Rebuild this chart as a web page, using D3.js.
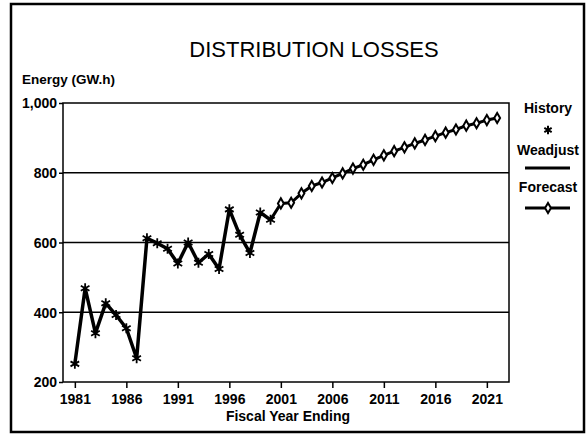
<!DOCTYPE html>
<html>
<head>
<meta charset="utf-8">
<script src="https://cdn.jsdelivr.net/npm/d3@7"></script>
<style>
  body { margin: 0; background: #fff; }
  svg text { font-family: "Liberation Sans", Arial, sans-serif; fill: #000; }
</style>
</head>
<body>
<svg width="588" height="437"></svg>
<script>
// history (weather adjusted) values, GW.h
let histYears = [1981, 1982, 1983, 1984, 1985, 1986, 1987, 1988, 1989, 1990,
                 1991, 1992, 1993, 1994, 1995, 1996, 1997, 1998, 1999, 2000];
let histValues = [252, 469, 340, 426, 392, 354, 268, 612, 598, 582,
                  540, 600, 542, 567, 524, 695, 622, 570, 686, 665];

let fcstYears = [2001, 2002, 2003, 2004, 2005, 2006, 2007, 2008, 2009, 2010, 2011,
                 2012, 2013, 2014, 2015, 2016, 2017, 2018, 2019, 2020, 2021, 2022];
let fcstValues = [712, 714, 741, 762, 772, 785, 798, 812, 823, 837, 850,
                  862, 873, 884, 894, 905, 915, 924, 935, 942, 951, 957];

let xTicks = [1981, 1986, 1991, 1996, 2001, 2006, 2011, 2016, 2021];
let yTicks = [200, 400, 600, 800, 1000];
let gridValues = [400, 600, 800];

let svg = d3.select("svg");

let plotLeft = 63, plotRight = 509, plotTop = 103, plotBottom = 382;

let x = d3.scaleLinear().domain([1979.85, 2023.15]).range([plotLeft, plotRight]),
    y = d3.scaleLinear().domain([200, 1000]).range([plotBottom, plotTop]);

let hist = histYears.map(function(d, i) { return [d, histValues[i]]; }),
    fcst = fcstYears.map(function(d, i) { return [d, fcstValues[i]]; });

let line = d3.line()
    .x(function(d) { return x(d[0]); })
    .y(function(d) { return y(d[1]); });

// outer frame
svg.append("rect")
    .attr("x", 11).attr("y", 4)
    .attr("width", 573).attr("height", 428)
    .attr("fill", "none")
    .attr("stroke", "#000")
    .attr("stroke-width", 2.5);

svg.append("text")
    .attr("x", 314).attr("y", 57)
    .attr("text-anchor", "middle")
    .style("font-size", "22px")
    .text("DISTRIBUTION LOSSES");

svg.append("text")
    .attr("x", 22).attr("y", 84)
    .style("font-size", "13.5px")
    .style("font-weight", "bold")
    .text("Energy (GW.h)");

// gridlines
svg.append("g").selectAll("line")
    .data(gridValues)
  .enter().append("line")
    .attr("x1", plotLeft).attr("x2", plotRight)
    .attr("y1", y).attr("y2", y)
    .attr("stroke", "#000")
    .attr("stroke-width", 1.5);

svg.append("rect")
    .attr("x", plotLeft).attr("y", plotTop)
    .attr("width", plotRight - plotLeft).attr("height", plotBottom - plotTop)
    .attr("fill", "none")
    .attr("stroke", "#000")
    .attr("stroke-width", 1.5);

let yAxis = svg.append("g")
    .attr("transform", "translate(" + plotLeft + ",0)")
    .call(d3.axisLeft(y).tickValues(yTicks).tickSize(4).tickPadding(2)
      .tickFormat(d3.format(",")));

let xAxis = svg.append("g")
    .attr("transform", "translate(0," + plotBottom + ")")
    .call(d3.axisBottom(x).tickValues(xTicks).tickSize(6).tickPadding(6)
      .tickFormat(d3.format("d")));

[yAxis, xAxis].forEach(function(a) {
  a.select(".domain").remove();
  a.selectAll("line").attr("stroke", "#000").attr("stroke-width", 1.5);
  a.selectAll("text")
      .style("font-family", "'Liberation Sans', Arial, sans-serif")
      .style("font-size", "14px")
      .style("font-weight", "bold");
});
yAxis.selectAll("text").attr("dy", "0.35em");

svg.append("text")
    .attr("x", 288).attr("y", 421)
    .attr("text-anchor", "middle")
    .style("font-size", "14px")
    .style("font-weight", "bold")
    .text("Fiscal Year Ending");

// weather adjusted line + history markers
svg.append("path")
    .datum(hist)
    .attr("d", line)
    .attr("fill", "none")
    .attr("stroke", "#000")
    .attr("stroke-width", 3.5)
    .attr("stroke-linejoin", "round");

// forecast continues from the last history point
svg.append("path")
    .datum([hist[hist.length - 1]].concat(fcst))
    .attr("d", line)
    .attr("fill", "none")
    .attr("stroke", "#000")
    .attr("stroke-width", 3)
    .attr("stroke-linejoin", "round");

let star = d3.symbol(d3.symbolAsterisk, 70),
    diamond = d3.symbol(d3.symbolDiamond, 30);

svg.append("g").selectAll("path")
    .data(hist)
  .enter().append("path")
    .attr("transform", function(d) { return "translate(" + x(d[0]) + "," + y(d[1]) + ")"; })
    .attr("d", star)
    .attr("fill", "none")
    .attr("stroke", "#000")
    .attr("stroke-width", 1.8);

svg.append("g").selectAll("path")
    .data(fcst)
  .enter().append("path")
    .attr("transform", function(d) { return "translate(" + x(d[0]) + "," + y(d[1]) + ")"; })
    .attr("d", diamond)
    .attr("fill", "#fff")
    .attr("stroke", "#000")
    .attr("stroke-width", 2);

// legend
let legend = svg.append("g").attr("transform", "translate(548,0)");

legend.append("text").attr("y", 113).attr("text-anchor", "middle")
    .style("font-size", "14px").style("font-weight", "bold").text("History");
legend.append("path")
    .attr("transform", "translate(0,130)")
    .attr("d", d3.symbol(d3.symbolAsterisk, 50))
    .attr("fill", "none").attr("stroke", "#000").attr("stroke-width", 2);
legend.append("text").attr("y", 155).attr("text-anchor", "middle")
    .style("font-size", "14px").style("font-weight", "bold").text("Weadjust");
legend.append("line")
    .attr("x1", -23).attr("x2", 22).attr("y1", 168).attr("y2", 168)
    .attr("stroke", "#000").attr("stroke-width", 3);
legend.append("text").attr("y", 192).attr("text-anchor", "middle")
    .style("font-size", "14px").style("font-weight", "bold").text("Forecast");
legend.append("line")
    .attr("x1", -23).attr("x2", 22).attr("y1", 208).attr("y2", 208)
    .attr("stroke", "#000").attr("stroke-width", 3);
legend.append("path")
    .attr("transform", "translate(0,208)")
    .attr("d", diamond)
    .attr("fill", "#fff").attr("stroke", "#000").attr("stroke-width", 2);
</script>
</body>
</html>
